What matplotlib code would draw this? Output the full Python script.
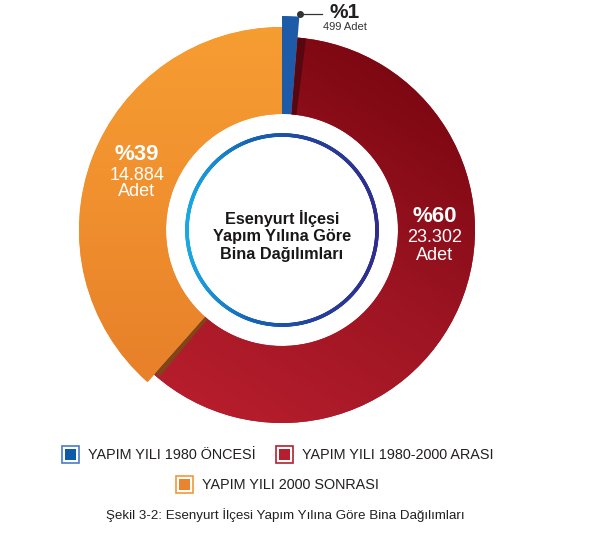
import numpy as np
import matplotlib.pyplot as plt
from matplotlib.patches import Wedge, Rectangle
from matplotlib.collections import LineCollection
from matplotlib.colors import LinearSegmentedColormap

labels = ["YAPIM YILI 1980 ÖNCESİ", "YAPIM YILI 1980-2000 ARASI", "YAPIM YILI 2000 SONRASI"]
counts = [499, 23302, 14884]
pct_text = ["%1", "%60", "%39"]
count_text = ["499 Adet", "23.302", "14.884"]
colors = ["#1d5ba8", "#a3162a", "#f0902e"]
center_title = "Esenyurt İlçesi\nYapım Yılına Göre\nBina Dağılımları"
caption = "Şekil 3-2: Esenyurt İlçesi Yapım Yılına Göre Bina Dağılımları"

W, H = 590, 551
cx, cy = 282, 230
r_in = 116
outer_r = [214, 193, 203]

plt.rcParams['font.family'] = ['Liberation Sans', 'DejaVu Sans']
fig = plt.figure(figsize=(W / 100, H / 100), dpi=100)
ax = fig.add_axes([0, 0, 1, 1])

# y ekseni piksel gibi ters -> saat yonu icin counterclock=True, ust = -90
wedges, _ = ax.pie(counts, colors=colors, startangle=-90, counterclock=True,
                   center=(cx, cy), radius=193,
                   wedgeprops=dict(width=193 - r_in, linewidth=0))
for w, r in zip(wedges, outer_r):
    w.set_radius(r)
    w.set_width(r - r_in)

# gradyanlar
yy, xx = np.mgrid[0:H, 0:W]
dx, dy = -230, 360
t_red = ((xx - 430) * dx + (yy - 60) * dy) / (dx * dx + dy * dy)
red_cmap = LinearSegmentedColormap.from_list("r", ["#780610", "#9c1422", "#b81e2d"])
im = ax.imshow(np.clip(t_red, 0, 1), cmap=red_cmap, extent=(0, W, H, 0),
               origin='upper', vmin=0, vmax=1, zorder=2)
im.set_clip_path(wedges[1])

t_or = (yy - 30) / 340
or_cmap = LinearSegmentedColormap.from_list("o", ["#f69d32", "#f0902e", "#e8812a"])
im2 = ax.imshow(np.clip(t_or, 0, 1), cmap=or_cmap, extent=(0, W, H, 0),
                origin='upper', vmin=0, vmax=1, zorder=2)
im2.set_clip_path(wedges[2])

# golgeler
red = wedges[1]
ax.add_patch(Wedge((cx, cy), 193, red.theta1, red.theta1 + 2.5, width=193 - r_in,
                   color="#4f0710", alpha=0.85, lw=0, zorder=3))
ax.add_patch(Wedge((cx, cy), 191, red.theta2 - 1.6, red.theta2, width=191 - r_in,
                   color="#7f4619", lw=0, zorder=3))

# ic halka
ang = np.linspace(0, 2 * np.pi, 721)
px = cx + 95 * np.cos(ang)
py = cy + 95 * np.sin(ang)
pts = np.array([px, py]).T.reshape(-1, 1, 2)
segs = np.concatenate([pts[:-1], pts[1:]], axis=1)
ring_cmap = LinearSegmentedColormap.from_list("b", ["#1ba8e2", "#1565b4", "#24409c", "#2e2d8e"])
lc = LineCollection(segs, cmap=ring_cmap, linewidths=2.6, capstyle='round', zorder=4)
lc.set_array((px[:-1] - (cx - 95)) / 190)
ax.add_collection(lc)

ax.text(cx, 236, center_title, ha='center', va='center', fontsize=11.7,
        fontweight='bold', color='#1a1718', linespacing=1.2, zorder=5)

# etiketler
ax.text(345, 12, pct_text[0], ha='center', va='center', fontsize=15,
        fontweight='bold', color='#231f20')
ax.text(345, 27, count_text[0], ha='center', va='center', fontsize=8, color='#333333')
ax.plot([300, 322], [14, 14], color='#333333', lw=0.9)
ax.plot([300], [14], 'o', color='#333333', ms=4)

ax.text(435, 217, pct_text[1], ha='center', va='center', fontsize=16,
        fontweight='bold', color='white', zorder=5)
ax.text(435, 238, count_text[1], ha='center', va='center', fontsize=13, color='white', zorder=5)
ax.text(435, 255, "Adet", ha='center', va='center', fontsize=13, color='white', zorder=5)

ax.text(137, 155, pct_text[2], ha='center', va='center', fontsize=16,
        fontweight='bold', color='white', zorder=5)
ax.text(137, 176, count_text[2], ha='center', va='center', fontsize=13, color='white', zorder=5)
ax.text(137, 192, "Adet", ha='center', va='center', fontsize=13, color='white', zorder=5)

# lejant
leg_pos = [(70.5, 454.5), (284, 454.5), (184.5, 484.5)]
leg_edge = ["#4a7cc8", "#b51f2f", "#f09a3a"]
leg_fill = ["#0f5aa8", "#b51f2f", "#ea842c"]
for (lx, ly), lab, ec, fc in zip(leg_pos, labels, leg_edge, leg_fill):
    ax.add_patch(Rectangle((lx - 8.5, ly - 8.5), 17, 17, facecolor='white',
                           edgecolor=ec, lw=1.2))
    ax.add_patch(Rectangle((lx - 5.5, ly - 5.5), 11, 11, facecolor=fc, lw=0))
    ax.text(lx + 17.5, ly + 0.5, lab, ha='left', va='center', fontsize=10.4, color='#231f20')

ax.text(285, 515, caption, ha='center', va='center', fontsize=9.6, color='#231f20')

ax.set_xlim(0, W)
ax.set_ylim(H, 0)
ax.set_aspect('equal')
ax.axis('off')

fig.savefig("out.png", dpi=100)
